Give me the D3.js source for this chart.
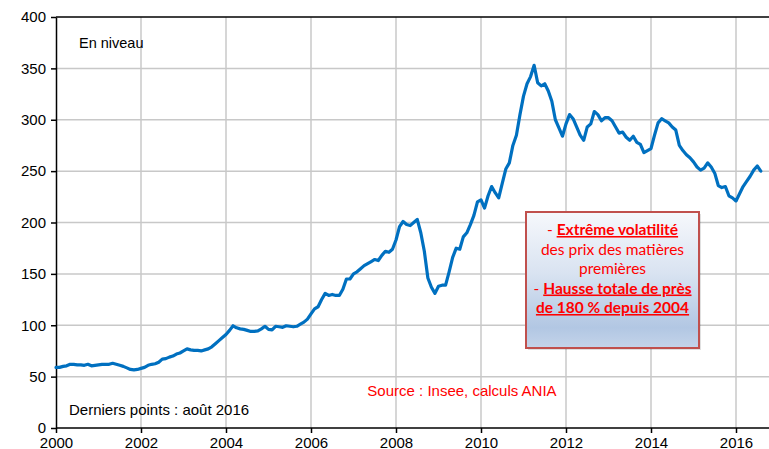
<!DOCTYPE html>
<html>
<head>
<meta charset="utf-8">
<script src="https://cdn.jsdelivr.net/npm/d3@7"></script>
<style>
  body { margin: 0; background: #fff; }
  svg { display: block; font-family: "Liberation Sans", Arial, sans-serif; }
</style>
</head>
<body>
<svg width="769" height="449"></svg>
<script>
// monthly index values, Jan..Dec
const y2000 = [59, 59, 60, 60.5, 62, 62, 61.5, 61.5, 61, 62, 60.5, 61];
const y2001 = [61.5, 62, 62, 62, 63, 62, 61, 60, 58.5, 57, 56.5, 57];
const y2002 = [58, 59, 61, 62, 62.5, 64, 67, 67.5, 69, 70, 72, 73];
const y2003 = [75, 77, 76, 75.5, 75.5, 75, 76, 77, 79, 82, 85, 88];
const y2004 = [91, 95, 99.5, 97.5, 96.5, 96, 95, 94, 94, 94.5, 96.5, 99];
const y2005 = [96, 95.5, 99, 98.5, 98, 99.5, 99, 98.5, 99, 101, 103, 106];
const y2006 = [111, 116, 118, 125, 131, 129, 130, 129, 129, 135, 145, 145];
const y2007 = [150, 152, 155, 158, 160, 162, 164, 163, 168, 172, 171, 174];
const y2008 = [183, 196, 201, 198, 197, 200, 203, 190, 172, 146, 137, 131];
const y2009 = [138, 139, 139, 152, 166, 175, 174, 186, 190, 198, 207, 220];
const y2010 = [222, 214, 226, 235, 229, 224, 238, 252, 258, 275, 285, 305];
const y2011 = [323, 335, 342, 353, 336, 333, 335, 328, 318, 300, 292, 284];
const y2012 = [296, 305, 301, 293, 285, 280, 293, 296, 308, 305, 299, 302];
const y2013 = [302, 299, 293, 287, 288, 283, 280, 284, 278, 276, 268, 270];
const y2014 = [272, 285, 297, 301, 299, 297, 293, 290, 275, 270, 266, 263];
const y2015 = [259, 254, 251, 253, 258, 254, 248, 236, 234, 235, 226, 224];
const y2016 = [221, 228, 235, 240, 245, 251, 255, 250];

const yearlySeries = [y2000, y2001, y2002, y2003, y2004, y2005, y2006, y2007, y2008,
  y2009, y2010, y2011, y2012, y2013, y2014, y2015, y2016];
const xTicks = [2000, 2002, 2004, 2006, 2008, 2010, 2012, 2014, 2016];
const yTicks = [0, 50, 100, 150, 200, 250, 300, 350, 400];
const noteLines = [
  [["- ", false], ["Extrême volatilité", true]],
  [["des prix des matières", false]],
  [["premières", false]],
  [["- ", false], ["Hausse totale de près", true]],
  [["de 180 % depuis 2004", true]]
];

const data = yearlySeries.flatMap((vals, i) =>
  vals.map((v, m) => ({ t: 2000 + i + m / 12, value: v })));

const width = 769, height = 449;
const margin = ({ top: 17, right: 0, bottom: 21, left: 56 });

const svg = d3.select("svg");

const x = d3.scaleLinear()
  .domain([2000, 2016])
  .range([margin.left, 736]);

const y = d3.scaleLinear()
  .domain([0, 400])
  .range([height - margin.bottom, margin.top]);

// grid
const grid = svg.append("g").attr("stroke", "#c8c8c8").attr("stroke-width", 1.5);
grid.selectAll(".gy")
  .data(yTicks.filter(d => d > 0 && d < 400))
  .join("line")
  .attr("x1", margin.left).attr("x2", width)
  .attr("y1", d => y(d)).attr("y2", d => y(d));
grid.selectAll(".gx")
  .data(xTicks.filter(d => d > 2000))
  .join("line")
  .attr("x1", d => x(d)).attr("x2", d => x(d))
  .attr("y1", y(400)).attr("y2", y(0));

// top border
svg.append("line")
  .attr("x1", margin.left).attr("x2", width)
  .attr("y1", y(400)).attr("y2", y(400))
  .attr("stroke", "#000").attr("stroke-width", 1.5);

// axes
const xAxis = g => g
  .attr("transform", `translate(0,${y(0)})`)
  .call(d3.axisBottom(x).tickValues(xTicks).tickFormat(d3.format("d"))
    .tickSize(5).tickPadding(4).tickSizeOuter(0))
  .call(g => g.select(".domain").attr("d", `M${margin.left},0H${width}`))
  .call(g => g.selectAll("line, .domain").attr("stroke", "#000").attr("stroke-width", 1.5))
  .call(g => g.selectAll("text").attr("font-size", 15).attr("fill", "#000")
    .attr("font-family", "Liberation Sans, Arial, sans-serif"));

const yAxis = g => g
  .attr("transform", `translate(${margin.left},0)`)
  .call(d3.axisLeft(y).tickValues(yTicks).tickSize(5).tickPadding(5).tickSizeOuter(0))
  .call(g => g.selectAll("line, .domain").attr("stroke", "#000").attr("stroke-width", 1.5))
  .call(g => g.selectAll("text").attr("font-size", 15).attr("fill", "#000")
    .attr("font-family", "Liberation Sans, Arial, sans-serif"));

svg.append("g").call(xAxis);
svg.append("g").call(yAxis);

// series
const line = d3.line()
  .x(d => x(d.t))
  .y(d => y(d.value));

svg.append("path")
  .datum(data)
  .attr("fill", "none")
  .attr("stroke", "#0070C0")
  .attr("stroke-width", 3.2)
  .attr("stroke-linejoin", "round")
  .attr("stroke-linecap", "round")
  .attr("d", line);

// labels
svg.append("text")
  .attr("x", 79).attr("y", 48)
  .attr("font-size", 14.5)
  .text("En niveau");

svg.append("text")
  .attr("x", 69).attr("y", 415)
  .attr("font-size", 15)
  .text("Derniers points : août 2016");

svg.append("text")
  .attr("x", 462).attr("y", 396)
  .attr("text-anchor", "middle")
  .attr("font-size", 15)
  .attr("fill", "#ff0000")
  .text("Source : Insee, calculs ANIA");

// annotation box
const defs = svg.append("defs");
const grad = defs.append("linearGradient")
  .attr("id", "boxFill").attr("x1", 0).attr("y1", 0).attr("x2", 0).attr("y2", 1);
grad.append("stop").attr("offset", "0%").attr("stop-color", "#f6f8fc");
grad.append("stop").attr("offset", "45%").attr("stop-color", "#d9e3f1");
grad.append("stop").attr("offset", "85%").attr("stop-color", "#b2c7e3");
grad.append("stop").attr("offset", "100%").attr("stop-color", "#c4d4ea");

const box = { x: 526, y: 212, w: 173, h: 136 };

svg.append("rect")
  .attr("x", box.x + 2).attr("y", box.y + 2)
  .attr("width", box.w).attr("height", box.h)
  .attr("fill", "#000").attr("opacity", 0.12);

svg.append("rect")
  .attr("x", box.x).attr("y", box.y)
  .attr("width", box.w).attr("height", box.h)
  .attr("fill", "url(#boxFill)")
  .attr("stroke", "#c0504d")
  .attr("stroke-width", 2);

const note = svg.append("text")
  .attr("text-anchor", "middle")
  .attr("font-family", "Lato, 'Open Sans', sans-serif")
  .attr("font-size", 15.5)
  .attr("fill", "#ff0000");

noteLines.forEach((parts, i) => {
  const row = note.append("tspan")
    .attr("x", box.x + box.w / 2)
    .attr("y", 235 + i * 19.5);
  parts.forEach(([txt, strong]) => {
    const s = row.append("tspan").text(txt);
    if (strong) s.attr("font-weight", "bold").style("text-decoration", "underline");
  });
});
</script>
</body>
</html>
